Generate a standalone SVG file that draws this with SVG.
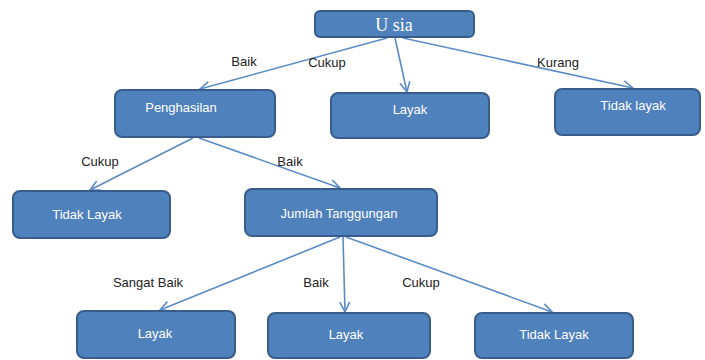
<svg xmlns="http://www.w3.org/2000/svg" width="705" height="360" viewBox="0 0 705 360">
<defs>
<style>
.box{fill:#4F81BD;stroke:#385D8A;stroke-width:2}
.t{font-family:"Liberation Sans",Arial,sans-serif;font-size:13px;fill:#fff;text-anchor:middle}
.l{font-family:"Liberation Sans",Arial,sans-serif;font-size:13px;fill:#222;text-anchor:middle}
.c{stroke:#5B8BC6;stroke-width:1.6;fill:none;marker-end:url(#a)}
</style>
<marker id="a" viewBox="0 0 12 12" refX="11" refY="6" markerWidth="12" markerHeight="12" markerUnits="userSpaceOnUse" orient="auto">
<path d="M1,1 L11,6 L1,11" fill="none" stroke="#5B8BC6" stroke-width="1.6"/>
</marker>
</defs>
<rect width="705" height="360" fill="#fff"/>
<g id="connectors">
<line class="c" x1="387" y1="38" x2="200" y2="89"/>
<line class="c" x1="395" y1="38" x2="407" y2="92"/>
<line class="c" x1="403" y1="38" x2="633" y2="88"/>
<line class="c" x1="193" y1="138" x2="90" y2="190"/>
<line class="c" x1="199" y1="138" x2="340" y2="188"/>
<line class="c" x1="340" y1="237" x2="160" y2="310"/>
<line class="c" x1="343" y1="237" x2="345" y2="312"/>
<line class="c" x1="346" y1="237" x2="552" y2="312"/>
</g>
<g id="labels">
<text class="l" x="244" y="66">Baik</text>
<text class="l" x="327" y="67">Cukup</text>
<text class="l" x="558" y="67">Kurang</text>
<text class="l" x="100" y="166">Cukup</text>
<text class="l" x="290" y="166">Baik</text>
<text class="l" x="148" y="287">Sangat Baik</text>
<text class="l" x="316" y="287">Baik</text>
<text class="l" x="421" y="287">Cukup</text>
</g>
<g id="usia">
<rect class="box" x="315" y="11" width="159" height="26" rx="5"/>
<text x="394" y="31" style="font-family:'Liberation Serif','Times New Roman',serif;font-size:18px;fill:#fff;text-anchor:middle">U sia</text>
</g>
<g id="penghasilan">
<rect class="box" x="115" y="90" width="160" height="47" rx="7"/>
<text class="t" x="181" y="112">Penghasilan</text>
</g>
<g id="layak-mid">
<rect class="box" x="331" y="93" width="158" height="45" rx="7"/>
<text class="t" x="410" y="114">Layak</text>
</g>
<g id="tidak-layak-right">
<rect class="box" x="555" y="89" width="145" height="46" rx="7"/>
<text class="t" x="633" y="110">Tidak layak</text>
</g>
<g id="tidak-layak-left">
<rect class="box" x="13" y="191" width="157" height="47" rx="7"/>
<text class="t" x="87" y="219">Tidak Layak</text>
</g>
<g id="jumlah-tanggungan">
<rect class="box" x="245" y="189" width="192" height="47" rx="7"/>
<text class="t" x="339" y="218">Jumlah Tanggungan</text>
</g>
<g id="layak-1">
<rect class="box" x="77" y="311" width="158" height="47" rx="7"/>
<text class="t" x="155" y="338">Layak</text>
</g>
<g id="layak-2">
<rect class="box" x="268" y="313" width="162" height="45" rx="7"/>
<text class="t" x="346" y="339">Layak</text>
</g>
<g id="tidak-layak-br">
<rect class="box" x="475" y="313" width="158" height="45" rx="7"/>
<text class="t" x="554" y="339">Tidak Layak</text>
</g>
</svg>
